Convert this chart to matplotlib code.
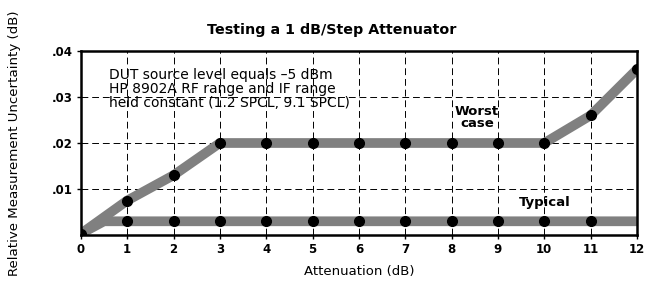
import numpy as np
import matplotlib.pyplot as plt
from matplotlib.ticker import FuncFormatter

# attenuation steps (dB)
atten = [0, 1, 2, 3, 4, 5, 6, 7, 8, 9, 10, 11, 12]
worst = [0.0003, 0.0075, 0.013, 0.020, 0.020, 0.020, 0.020, 0.020, 0.020, 0.020, 0.020, 0.026, 0.036]
typ_x = [0, 0.5, 1, 2, 3, 4, 5, 6, 7, 8, 9, 10, 11, 12]
typical = [0.0003, 0.003, 0.003, 0.003, 0.003, 0.003, 0.003, 0.003, 0.003, 0.003, 0.003, 0.003, 0.003, 0.003]
typ_pts = [1, 2, 3, 4, 5, 6, 7, 8, 9, 10, 11]
typ_pt_val = 0.003

fig = plt.figure(figsize=(6.52, 2.86), dpi=100)
ax = fig.add_axes([0.124, 0.178, 0.853, 0.644])

band = dict(color="#808080", lw=7, solid_capstyle="butt", zorder=2)
ax.plot(atten, worst, **band)
ax.plot(typ_x, typical, **band)
ax.plot(atten, worst, "o", color="black", ms=7, zorder=3)
ax.plot(typ_pts, [typ_pt_val] * len(typ_pts), "o", color="black", ms=7, zorder=3)

ax.set_xlim(0, 12)
ax.set_ylim(0, 0.04)
ax.set_xticks(range(13))
ax.set_yticks([0.01, 0.02, 0.03, 0.04])
ax.yaxis.set_major_formatter(FuncFormatter(lambda v, p: f"{v:.2f}".lstrip("0")))
ax.grid(True, color="black", lw=0.7, ls=(0, (7, 4)))
ax.set_axisbelow(True)
for s in ax.spines.values():
    s.set_linewidth(1.8)
ax.tick_params(length=3, width=1, labelsize=8.5, pad=3)
for t in ax.get_xticklabels() + ax.get_yticklabels():
    t.set_fontweight("bold")

ax.set_xlabel("Attenuation (dB)", fontsize=9.5, labelpad=6)
fig.text(0.023, 0.5, "Relative Measurement Uncertainty (dB)", rotation=90,
         ha="center", va="center", fontsize=9.6)
fig.text(0.508, 0.895, "Testing a 1 dB/Step Attenuator", ha="center", va="center",
         fontsize=10.3, fontweight="bold")

ax.text(0.6, 0.0362, "DUT source level equals \u20135 dBm\nHP 8902A RF range and IF range\nheld constant (1.2 SPCL, 9.1 SPCL)",
        fontsize=10, va="top", ha="left", linespacing=1.0, zorder=4)
ax.text(8.55, 0.0255, "Worst\ncase", fontsize=9.5, ha="center", va="center",
        linespacing=0.95, fontweight="bold", zorder=4)
ax.text(10.0, 0.0071, "Typical", fontsize=9.5, ha="center", va="center",
        fontweight="bold", zorder=4)

fig.savefig("out.png", dpi=100)
